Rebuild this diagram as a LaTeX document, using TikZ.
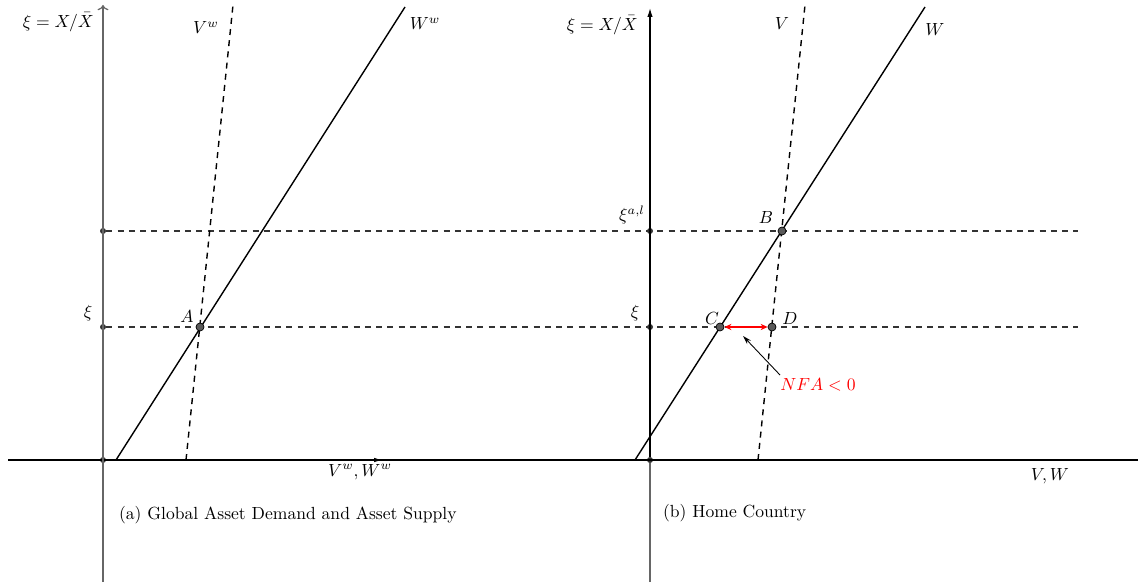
\documentclass[tikz,border=0pt]{standalone}
\usepackage{amsmath,amssymb}
\usepackage{xcolor}
\usetikzlibrary{arrows.meta,positioning}

\begin{document}
\begin{tikzpicture}[
    x=0.02cm, y=0.02cm,
    >=Stealth,
    % Styles
    axis/.style={draw=black!60, line width=0.7pt},
    baseline/.style={draw=black, line width=0.7pt},
    demand/.style={draw=black, line width=0.8pt},
    supply/.style={draw=black, line width=0.8pt, dash pattern=on 3.4pt off 3pt},
    guide/.style={draw=black!80, line width=0.6pt, dash pattern=on 3.4pt off 3pt},
    tick/.style={circle, fill=black!80, inner sep=0pt, minimum size=0.12cm},
    eqm/.style={circle, draw=black, fill=black!65, inner sep=0pt, minimum size=0.16cm},
    lbl/.style={inner sep=1pt},
    gap/.style={{Stealth[length=4pt,width=3.5pt]}-{Stealth[length=4pt,width=3.5pt]}, red, line width=1pt}
]
\useasboundingbox (0,0) rectangle (1138,582);

% --- Key coordinates ---
\coordinate (xstart) at (8,122);
\coordinate (xend) at (1138,122);
\coordinate (axLbot) at (103,0);
\coordinate (axLtop) at (103,577);
\coordinate (axRbot) at (650,0);
\coordinate (axRtop) at (650,574);
\coordinate (axLx) at (383,122);
\coordinate (guideHiEnd) at (1078,351);
\coordinate (guideLoEnd) at (1078,255);

% curve end points
\coordinate (WwLow) at (116,122);
\coordinate (WwHigh) at (405,575);
\coordinate (VwLow) at (186,122);
\coordinate (VwHigh) at (233,577);
\coordinate (WLow) at (635,122);
\coordinate (WHigh) at (925,575);
\coordinate (VLow) at (758,122);
\coordinate (VHigh) at (805,577);

% --- Dots on the axes ---
\node[tick] (oL) at (103,122) {};
\node[tick] (xiL) at (103,255) {};
\node[tick] (xialL) at (103,351) {};
\node[tick] (oR) at (650,122) {};
\node[tick] (xiR) at (650,255) {};
\node[tick] (xialR) at (650,351) {};

% --- Guides ---
\draw[guide] (xialL) -- (guideHiEnd);
\draw[guide] (xiL) -- (guideLoEnd);

% --- Axes ---
\draw[baseline] (xstart) -- (xend);
\draw[baseline, -{Latex[length=5pt,width=2.5pt]}] (oL) -- (axLx);
\draw[axis, -{To[length=3pt]}] (axLbot) -- (axLtop);
\draw[axis] (axRbot) -- (oR);
\draw[baseline, -{Latex[length=5pt,width=3pt]}] (oR) -- (axRtop);

% --- Schedules ---
\draw[demand] (WwLow) -- (WwHigh);
\draw[supply] (VwLow) -- (VwHigh);
\draw[demand] (WLow) -- (WHigh);
\draw[supply] (VLow) -- (VHigh);

% --- Equilibrium points ---
\node[eqm] (A) at (200,255) {};
\node[eqm] (B) at (782,351) {};
\node[eqm] (C) at (720,255) {};
\node[eqm] (D) at (772,255) {};

\draw[gap] (C) -- (D);

% --- Labels ---
\node[lbl, anchor=east] (yL) at (96,560) {$\xi = X/\bar{X}$};
\node[lbl, anchor=east] (yR) at (640,557) {$\xi = X/\bar{X}$};
\node[lbl] at (206,554) {$V^w$};
\node[lbl] at (425,558) {$W^w$};
\node[lbl] at (782,558) {$V$};
\node[lbl] at (935,552) {$W$};
\node[lbl] at (88,269) {$\xi$};
\node[lbl] at (635,269) {$\xi$};
\node[lbl] at (632,367) {$\xi^{a,l}$};
\node[lbl] at (187,266) {$A$};
\node[lbl] at (766,365) {$B$};
\node[lbl] at (712,264) {$C$};
\node[lbl] at (790,264) {$D$};
\node[lbl] at (360,110) {$V^w, W^w$};
\node[lbl] at (1050,106) {$V, W$};
\node[lbl, anchor=west] (capA) at (117,67) {(a) Global Asset Demand and Asset Supply};
\node[lbl, anchor=west] (capB) at (661,69) {(b) Home Country};

\node[lbl, red] (nfa) at (818,197) {$NFA < 0$};
\coordinate (nfaTail) at (780,207);
\draw[->, line width=0.5pt, >={Stealth[length=5pt,width=3pt]}] (nfaTail) -- (743,246);

\end{tikzpicture}
\end{document}
